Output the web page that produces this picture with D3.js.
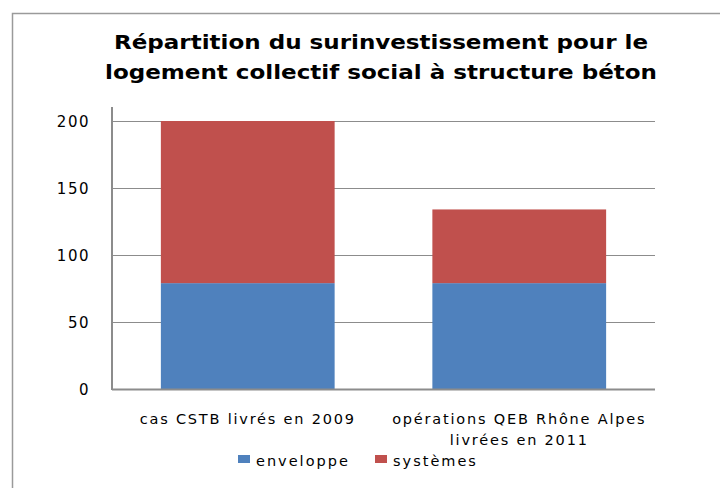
<!DOCTYPE html>
<html lang="fr">
<head>
  <meta charset="utf-8">
  <title>Répartition du surinvestissement</title>
  <style>
    body { margin: 0; padding: 0; background: #fff; }
    svg text { font-family: 'DejaVu Sans', sans-serif; fill: #000; }
  </style>
</head>
<body>
  <div id="chart"></div>
  <script src="https://d3js.org/d3.v7.min.js"></script>
  <script>
    // data
    var categories = ["cas CSTB livrés en 2009", "opérations QEB Rhône Alpes livrées en 2011"];
    var categoryLines = [["cas CSTB livrés en 2009"], ["opérations QEB Rhône Alpes", "livrées en 2011"]];
    var enveloppe = [79, 79];
    var systemes = [121, 55];
    var seriesNames = ["enveloppe", "systèmes"];
    var seriesColors = ["#4F81BD", "#C0504D"];
    var yTicks = [0, 50, 100, 150, 200];
    var titleLines = ["Répartition du surinvestissement pour le", "logement collectif social à structure béton"];

    var W = 720, H = 488;
    var plot = { left: 112, right: 655, top: 121, bottom: 389 };

    var svg = d3.select("#chart").append("svg")
      .attr("width", W).attr("height", H);

    // outer frame (only top and left visible)
    svg.append("path")
      .attr("d", "M12.5," + H + "V13.5H" + W)
      .attr("fill", "none").attr("stroke", "#9a9a9a").attr("stroke-width", 1.5);

    // title, stretched to the width of the original
    var titleWidths = [534, 552];
    svg.append("g").selectAll("text")
      .data(titleLines).enter().append("text")
      .attr("x", 381).attr("y", function (d, i) { return 49 + i * 30; })
      .attr("text-anchor", "middle")
      .attr("textLength", function (d, i) { return titleWidths[i]; })
      .attr("lengthAdjust", "spacingAndGlyphs")
      .style("font-size", "19.5px").style("font-weight", "bold")
      .text(function (d) { return d; });

    var x = d3.scaleBand().domain(categories)
      .range([plot.left, plot.right]).paddingInner(0.36).paddingOuter(0.18);
    var y = d3.scaleLinear().domain([0, 200]).range([plot.bottom, plot.top]);

    // gridlines
    svg.append("g").selectAll("line")
      .data(yTicks.filter(function (d) { return d > 0; })).enter().append("line")
      .attr("x1", plot.left).attr("x2", plot.right)
      .attr("y1", function (d) { return Math.round(y(d)) + 0.5; })
      .attr("y2", function (d) { return Math.round(y(d)) + 0.5; })
      .attr("stroke", "#8c8c8c").attr("stroke-width", 1);

    // stacked bars
    var rows = categories.map(function (c, i) {
      return { cat: c, enveloppe: enveloppe[i], "systèmes": systemes[i] };
    });
    var stacked = d3.stack().keys(seriesNames)(rows);

    svg.append("g").selectAll("g")
      .data(stacked).enter().append("g")
      .attr("fill", function (d, i) { return seriesColors[i]; })
      .selectAll("rect")
      .data(function (d) { return d; }).enter().append("rect")
      .attr("x", function (d) { return x(d.data.cat); })
      .attr("width", x.bandwidth())
      .attr("y", function (d) { return y(d[1]); })
      .attr("height", function (d) { return y(d[0]) - y(d[1]); });

    // axes lines
    svg.append("line")
      .attr("x1", plot.left).attr("x2", plot.left)
      .attr("y1", 107).attr("y2", plot.bottom + 1)
      .attr("stroke", "#8c8c8c").attr("stroke-width", 2);
    svg.append("line")
      .attr("x1", plot.left).attr("x2", plot.right)
      .attr("y1", plot.bottom + 0.5).attr("y2", plot.bottom + 0.5)
      .attr("stroke", "#8c8c8c").attr("stroke-width", 2);

    // y tick labels
    svg.append("g").selectAll("text")
      .data(yTicks).enter().append("text")
      .attr("x", 90).attr("y", function (d) { return y(d) + 5.5; })
      .attr("text-anchor", "end")
      .style("font-size", "15px").style("letter-spacing", "1.5px")
      .text(function (d) { return d; });

    // x labels
    svg.append("g").selectAll("text")
      .data(categories).enter().append("text")
      .attr("text-anchor", "middle")
      .style("font-size", "14.5px").style("letter-spacing", "1.8px")
      .each(function (d, i) {
        var t = d3.select(this);
        categoryLines[i].forEach(function (line, j) {
          t.append("tspan")
            .attr("x", x(d) + x.bandwidth() / 2)
            .attr("y", 424 + j * 21)
            .text(line);
        });
      });

    // legend
    var legendX = [238, 375];
    var legend = svg.append("g").selectAll("g")
      .data(seriesNames).enter().append("g")
      .attr("transform", function (d, i) { return "translate(" + legendX[i] + ",455)"; });
    legend.append("rect")
      .attr("width", 12).attr("height", 8)
      .attr("fill", function (d, i) { return seriesColors[i]; });
    legend.append("text")
      .attr("x", 18).attr("y", 11)
      .style("font-size", "14.5px").style("letter-spacing", "2px")
      .text(function (d) { return d; });
  </script>
</body>
</html>
